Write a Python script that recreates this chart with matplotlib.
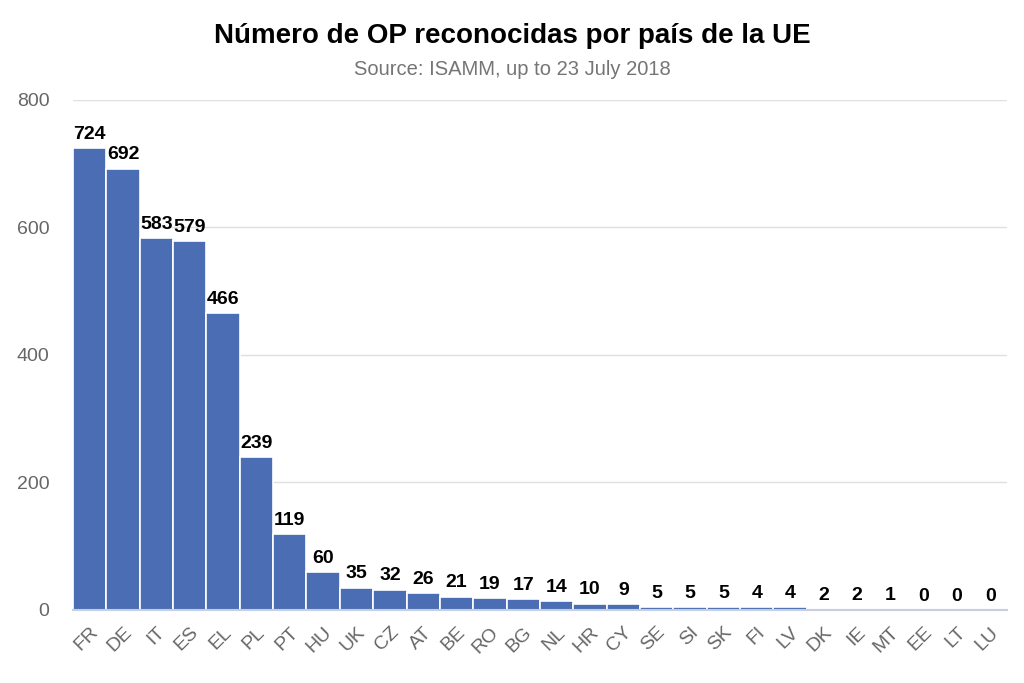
import matplotlib.pyplot as plt

countries = ["FR", "DE", "IT", "ES", "EL", "PL", "PT", "HU", "UK", "CZ", "AT", "BE", "RO", "BG",
             "NL", "HR", "CY", "SE", "SI", "SK", "FI", "LV", "DK", "IE", "MT", "EE", "LT", "LU"]
counts = [724, 692, 583, 579, 466, 239, 119, 60, 35, 32, 26, 21, 19, 17,
          14, 10, 9, 5, 5, 5, 4, 4, 2, 2, 1, 0, 0, 0]

plt.rcParams['font.family'] = ['Liberation Sans', 'DejaVu Sans']

fig = plt.figure(figsize=(10.24, 6.83), dpi=100)
ax = fig.add_axes([0.0713, 0.107, 0.912, 0.747])

ax.bar(range(len(counts)), counts, width=1.0, color='#4a6db4',
       edgecolor='white', linewidth=1.2, zorder=3)
for i, v in enumerate(counts):
    ax.text(i, v + 8, str(v), ha='center', va='bottom', fontsize=14,
            fontweight='bold', color='black', zorder=4)

ax.set_xlim(-0.5, len(counts) - 0.5)
ax.set_ylim(0, 800)
ax.set_yticks([0, 200, 400, 600, 800])
ax.yaxis.grid(True, color='#e0e0e0', linewidth=1, zorder=0)
ax.axhline(0, color='#c5cfe0', linewidth=1.5, zorder=3.5, clip_on=False)
for s in ax.spines.values():
    s.set_visible(False)
ax.tick_params(axis='both', length=0, labelcolor='#666666')
ax.tick_params(axis='y', pad=17, labelsize=14)
ax.set_xticks(range(len(counts)))
ax.set_xticklabels(countries, rotation=45, ha='right', rotation_mode='anchor')
ax.tick_params(axis='x', pad=10, labelsize=14)

fig.text(0.5, 0.948, "Número de OP reconocidas por país de la UE", ha='center',
         va='center', fontsize=20, fontweight='bold')
fig.text(0.5, 0.898, "Source: ISAMM, up to 23 July 2018", ha='center', va='center',
         fontsize=14.5, color='#757575')

fig.savefig('out.png', dpi=100)
